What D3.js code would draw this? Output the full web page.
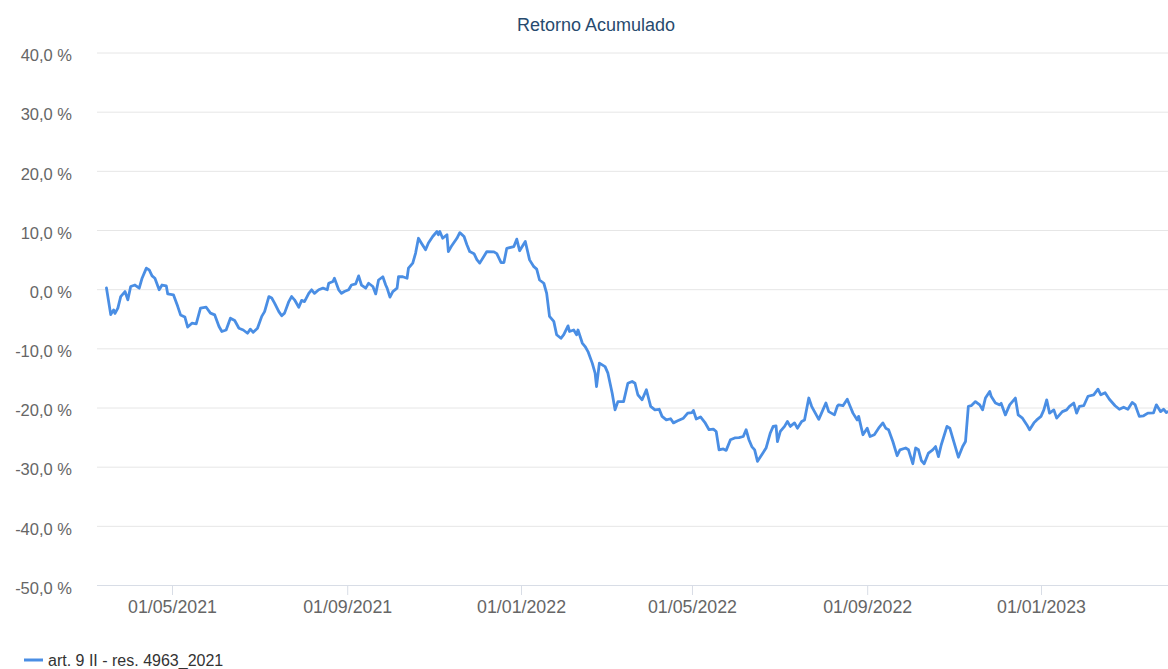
<!DOCTYPE html>
<html>
<head>
<meta charset="utf-8">
<script src="https://cdn.jsdelivr.net/npm/d3@7"></script>
<style>
  html, body { margin: 0; padding: 0; background: #fff; }
  svg { display: block; font-family: "Liberation Sans", Arial, sans-serif; }
</style>
</head>
<body>
<svg id="chart" width="1168" height="669"></svg>
<script>
const chartTitle = "Retorno Acumulado";
const seriesName = "art. 9 II - res. 4963_2021";

const dates = [
"2021-03-16","2021-03-19","2021-03-21","2021-03-22","2021-03-24","2021-03-26","2021-03-29","2021-03-31",
"2021-04-02","2021-04-05","2021-04-08","2021-04-10","2021-04-13","2021-04-15","2021-04-17","2021-04-19",
"2021-04-22","2021-04-24","2021-04-27","2021-04-28","2021-05-02","2021-05-05","2021-05-07","2021-05-10",
"2021-05-12","2021-05-15","2021-05-18","2021-05-21","2021-05-25","2021-05-28","2021-05-31","2021-06-03",
"2021-06-05","2021-06-08","2021-06-11","2021-06-14","2021-06-17","2021-06-20","2021-06-23","2021-06-25",
"2021-06-27","2021-06-30","2021-07-03","2021-07-05","2021-07-08","2021-07-10","2021-07-12","2021-07-15",
"2021-07-17","2021-07-19","2021-07-22","2021-07-24","2021-07-26","2021-07-29","2021-07-31","2021-08-02",
"2021-08-05","2021-08-07","2021-08-09","2021-08-12","2021-08-15","2021-08-18","2021-08-19","2021-08-22",
"2021-08-23","2021-08-26","2021-08-28","2021-08-30","2021-09-02","2021-09-04","2021-09-07","2021-09-09",
"2021-09-11","2021-09-14","2021-09-16","2021-09-19","2021-09-21","2021-09-23","2021-09-26","2021-09-28",
"2021-09-29","2021-10-01","2021-10-03","2021-10-06","2021-10-07","2021-10-10","2021-10-13","2021-10-14",
"2021-10-17","2021-10-19","2021-10-21","2021-10-23","2021-10-26","2021-10-28","2021-10-31","2021-11-03",
"2021-11-04","2021-11-05","2021-11-07","2021-11-10","2021-11-11","2021-11-13","2021-11-17","2021-11-19",
"2021-11-22","2021-11-24","2021-11-26","2021-11-29","2021-12-01","2021-12-03","2021-12-08","2021-12-13",
"2021-12-15","2021-12-18","2021-12-20","2021-12-22","2021-12-27","2021-12-29","2021-12-31","2022-01-04",
"2022-01-07","2022-01-10","2022-01-12","2022-01-14","2022-01-17","2022-01-19","2022-01-21","2022-01-24",
"2022-01-26","2022-01-29","2022-01-31","2022-02-03","2022-02-04","2022-02-07","2022-02-09","2022-02-10",
"2022-02-13","2022-02-15","2022-02-17","2022-02-20","2022-02-22","2022-02-23","2022-02-25","2022-03-01",
"2022-03-03","2022-03-06","2022-03-08","2022-03-10","2022-03-14","2022-03-17","2022-03-20","2022-03-22",
"2022-03-24","2022-03-27","2022-03-30","2022-04-02","2022-04-05","2022-04-08","2022-04-10","2022-04-13",
"2022-04-16","2022-04-18","2022-04-21","2022-04-25","2022-04-28","2022-05-01","2022-05-02","2022-05-04",
"2022-05-07","2022-05-10","2022-05-13","2022-05-16","2022-05-18","2022-05-20","2022-05-23","2022-05-25",
"2022-05-28","2022-05-31","2022-06-03","2022-06-06","2022-06-08","2022-06-10","2022-06-12","2022-06-14",
"2022-06-16","2022-06-19","2022-06-22","2022-06-25","2022-06-27","2022-06-29","2022-06-30","2022-07-02",
"2022-07-05","2022-07-07","2022-07-09","2022-07-12","2022-07-14","2022-07-17","2022-07-19","2022-07-22",
"2022-07-24","2022-07-26","2022-07-29","2022-07-31","2022-08-03","2022-08-05","2022-08-09","2022-08-11",
"2022-08-12","2022-08-15","2022-08-18","2022-08-20","2022-08-22","2022-08-25","2022-08-26","2022-08-29",
"2022-09-01","2022-09-03","2022-09-06","2022-09-09","2022-09-12","2022-09-14","2022-09-16","2022-09-19",
"2022-09-22","2022-09-24","2022-09-28","2022-09-30","2022-10-03","2022-10-05","2022-10-07","2022-10-09",
"2022-10-11","2022-10-14","2022-10-17","2022-10-19","2022-10-21","2022-10-23","2022-10-27","2022-10-29",
"2022-10-31","2022-11-04","2022-11-07","2022-11-09","2022-11-11","2022-11-13","2022-11-16","2022-11-19",
"2022-11-21","2022-11-23","2022-11-26","2022-11-27","2022-11-30","2022-12-03","2022-12-04","2022-12-07",
"2022-12-10","2022-12-14","2022-12-16","2022-12-19","2022-12-22","2022-12-24","2022-12-27","2022-12-29",
"2023-01-01","2023-01-03","2023-01-05","2023-01-07","2023-01-10","2023-01-12","2023-01-16","2023-01-19",
"2023-01-21","2023-01-24","2023-01-26","2023-01-28","2023-01-31","2023-02-03","2023-02-07","2023-02-10",
"2023-02-12","2023-02-15","2023-02-18","2023-02-22","2023-02-25","2023-02-28","2023-03-03","2023-03-06",
"2023-03-08","2023-03-11","2023-03-14","2023-03-17","2023-03-21","2023-03-23","2023-03-26","2023-03-28",
"2023-03-30","2023-04-02"
];

const values = [
0.2,-4.3,-3.5,-4.1,-3.2,-1.25,-0.4,-1.8,
0.45,0.7,0.17,1.85,3.55,3.25,2.25,1.85,
-0.1,0.7,0.55,-0.8,-0.95,-2.9,-4.35,-4.7,
-6.4,-5.75,-5.85,-3.2,-3.05,-4.05,-4.35,-6.3,
-7.15,-6.9,-4.9,-5.3,-6.6,-6.9,-7.45,-6.75,
-7.3,-6.6,-4.6,-3.8,-1.25,-1.5,-2.35,-3.8,
-4.5,-4.05,-2.1,-1.25,-1.8,-3.05,-1.9,-2.1,
-0.7,-0.1,-0.7,-0.1,0.17,-0.1,1.0,1.3,
1.85,-0.1,-0.7,-0.4,-0.1,0.7,0.9,2.25,
0.7,0.17,1.0,0.45,-0.8,1.55,2.1,0.7,
0.17,-1.35,-0.4,0.17,2.1,2.1,1.85,3.55,
4.4,6.1,8.6,7.8,6.65,7.8,8.9,9.75,
9.2,9.75,8.6,9.2,6.35,7.2,8.6,9.55,
8.9,7.5,6.35,6.0,5.0,4.4,6.35,6.3,
6.0,4.5,4.5,6.9,7.2,8.45,6.5,8.05,
4.95,3.8,3.4,1.55,1.0,-0.7,-4.6,-5.45,
-7.7,-8.3,-7.7,-6.2,-7.15,-6.9,-7.7,-6.9,
-9.1,-9.7,-10.55,-12.5,-14.2,-16.45,-12.5,-13.1,
-14.2,-17.6,-20.4,-19.0,-19.0,-15.9,-15.6,-15.9,
-17.85,-18.7,-17.0,-19.8,-20.4,-20.3,-21.5,-22.1,
-21.9,-22.6,-22.25,-21.8,-20.95,-20.85,-20.5,-21.95,
-21.6,-22.5,-23.75,-23.65,-24.05,-27.15,-27.0,-27.25,
-25.45,-25.15,-25.1,-24.9,-23.75,-25.45,-26.6,-27.15,
-29.1,-28.0,-26.85,-24.3,-23.2,-23.1,-25.75,-24.05,
-23.2,-22.35,-23.2,-22.6,-23.5,-22.35,-22.1,-18.4,
-19.8,-20.7,-22.0,-20.9,-19.25,-20.7,-21.25,-19.8,
-19.55,-19.7,-18.6,-19.8,-20.95,-22.1,-21.5,-24.6,
-23.5,-24.9,-24.6,-23.5,-22.6,-23.5,-23.75,-25.75,
-28.15,-27.15,-26.85,-27.15,-29.5,-26.85,-27.15,-28.95,
-29.5,-27.7,-27.15,-26.6,-28.3,-26.3,-23.2,-23.5,
-25.15,-28.4,-26.6,-25.75,-19.8,-19.7,-19.0,-19.55,
-20.4,-18.4,-17.3,-18.1,-19.25,-19.55,-19.3,-21.25,
-19.55,-18.4,-21.25,-21.8,-22.9,-23.75,-22.6,-22.1,
-21.5,-20.4,-18.7,-20.95,-20.4,-21.8,-20.7,-20.4,
-19.8,-19.25,-20.95,-19.8,-19.7,-18.1,-17.85,-16.9,
-17.85,-17.5,-18.6,-19.7,-20.3,-19.95,-20.3,-19.15,
-19.5,-21.5,-21.4,-20.95,-20.9,-19.55,-20.7,-20.3,
-20.85,-20.5
];

const xTickDates = ["2021-05-01","2021-09-01","2022-01-01","2022-05-01","2022-09-01","2023-01-01"];
const yTickValues = [-50,-40,-30,-20,-10,0,10,20,30,40];

// ---- layout ----
const W = 1168, H = 669;
const plotLeft = 97, plotRight = 1168, plotTop = 52.5, plotBottom = 585;

const parse = d3.utcParse("%Y-%m-%d");
const data = dates.map((d, i) => ({ date: parse(d), value: values[i] }));
const tickDates = xTickDates.map(parse);

// anchor the time scale at the first and last labelled ticks, then extend to the plot edges
const x = d3.scaleUtc().domain([tickDates[0], tickDates[tickDates.length - 1]]).range([172, 1041]);
x.domain([x.invert(plotLeft), x.invert(plotRight)]).range([plotLeft, plotRight]);

const y = d3.scaleLinear().domain([-50, 40]).range([plotBottom, plotTop]);

const locale = d3.formatLocale({ decimal: ",", thousands: ".", grouping: [3], currency: ["", ""], minus: "-" });
const fmtY = v => locale.format(".1f")(v) + " %";
const fmtX = d3.utcFormat("%d/%m/%Y");

const svg = d3.select("#chart");

// title
svg.append("text")
  .attr("x", 596).attr("y", 31)
  .attr("text-anchor", "middle")
  .attr("font-size", 18)
  .attr("fill", "#274a6e")
  .text(chartTitle);

// gridlines + y labels
const yAxis = d3.axisLeft(y).tickValues(yTickValues).tickSize(-(plotRight - plotLeft)).tickFormat(fmtY).tickPadding(25);
const gy = svg.append("g").attr("transform", `translate(${plotLeft},0)`).call(yAxis);
gy.select(".domain").remove();
gy.selectAll(".tick line").attr("stroke", "#e6e6e6").attr("stroke-width", 1);
gy.selectAll(".tick").filter(d => d === -50).select("line").attr("stroke", "#d8dde6");
gy.selectAll(".tick text")
  .attr("font-size", 16.5)
  .attr("fill", "#666")
  .attr("font-family", "Liberation Sans, Arial, sans-serif")
  .attr("dy", "0.5em");

// x axis
const xAxis = d3.axisBottom(x).tickValues(tickDates).tickSize(10).tickFormat(fmtX).tickPadding(5);
const gx = svg.append("g").attr("transform", `translate(0,${plotBottom})`).call(xAxis);
gx.select(".domain").remove();
gx.selectAll(".tick line").attr("stroke", "#d8dde6");
gx.selectAll(".tick text")
  .attr("font-size", 17.8)
  .attr("fill", "#666")
  .attr("font-family", "Liberation Sans, Arial, sans-serif");

// clip
svg.append("clipPath").attr("id", "plotclip")
  .append("rect").attr("x", plotLeft).attr("y", 0).attr("width", plotRight - plotLeft).attr("height", H);

const line = d3.line().x(d => x(d.date)).y(d => y(d.value));
svg.append("path")
  .datum(data)
  .attr("clip-path", "url(#plotclip)")
  .attr("fill", "none")
  .attr("stroke", "#4a8ee4")
  .attr("stroke-width", 2.8)
  .attr("stroke-linejoin", "round")
  .attr("stroke-linecap", "round")
  .attr("d", line);

// legend
const lg = svg.append("g").attr("transform", "translate(24,660)");
lg.append("line").attr("x1", 0).attr("x2", 19).attr("y1", 0).attr("y2", 0)
  .attr("stroke", "#4a8ee4").attr("stroke-width", 3);
lg.append("text").attr("x", 24).attr("y", 5.5)
  .attr("font-size", 16).attr("fill", "#333")
  .text(seriesName);
</script>
</body>
</html>
